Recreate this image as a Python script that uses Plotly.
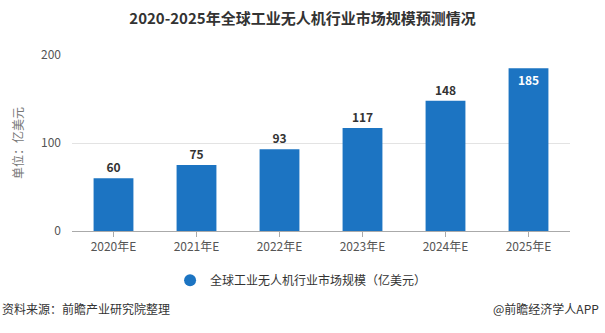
import plotly.graph_objects as go

years = ["2020年E", "2021年E", "2022年E", "2023年E", "2024年E", "2025年E"]
market_size = [60, 75, 93, 117, 148, 185]
series_name = "全球工业无人机行业市场规模（亿美元）"
y_ticks = [0, 100, 200]

font_cn = "Noto Sans CJK SC, Microsoft YaHei, sans-serif"
bar_color = "#1c74c2"

# last bar carries its label inside, the rest sit above their bars
positions = ["outside"] * (len(market_size) - 1) + ["inside"]

fig = go.Figure()
fig.add_trace(go.Bar(
    x=years,
    y=market_size,
    name=series_name,
    marker=dict(color=bar_color, line=dict(width=0)),
    text=[str(v) for v in market_size],
    textposition=positions,
    insidetextanchor="end",
    outsidetextfont=dict(family=font_cn, size=12, color="#333333", weight="bold"),
    insidetextfont=dict(family=font_cn, size=12, color="#ffffff", weight="bold"),
    cliponaxis=False,
    showlegend=False,
))

# round legend key for the series
fig.add_trace(go.Scatter(
    x=[None], y=[None],
    mode="markers",
    name=series_name,
    marker=dict(symbol="circle", size=10, color=bar_color),
    showlegend=True,
))

fig.update_layout(
    width=605,
    height=333,
    margin=dict(l=72, r=35, t=55, b=102),
    paper_bgcolor="white",
    plot_bgcolor="white",
    bargap=0.52,
    title=dict(
        text="<b>2020-2025年全球工业无人机行业市场规模预测情况</b>",
        x=0.5, xanchor="center", y=0.945, yanchor="middle",
        font=dict(family=font_cn, size=15, color="#333333"),
    ),
    xaxis=dict(
        showgrid=False,
        showline=True, linecolor="#aaaaaa", linewidth=1,
        ticks="outside", ticklen=5, tickcolor="#aaaaaa",
        tickfont=dict(family=font_cn, size=12, color="#555555"),
    ),
    yaxis=dict(
        range=[0, 200],
        tickvals=y_ticks,
        showgrid=True, gridcolor="#e3e3e3", gridwidth=1,
        zeroline=False,
        showline=False,
        ticks="", ticklabelstandoff=10,
        tickfont=dict(family=font_cn, size=12, color="#555555"),
        title=dict(text="单位：亿美元", standoff=14,
                   font=dict(family=font_cn, size=12, color="#777777")),
    ),
    legend=dict(
        orientation="h",
        x=0.46, xanchor="center",
        y=-0.28, yanchor="middle",
        font=dict(family=font_cn, size=12, color="#333333"),
        itemsizing="constant",
        itemwidth=30,
    ),
    annotations=[
        dict(text="资料来源：前瞻产业研究院整理", xref="paper", yref="paper",
             x=-72 / 498, y=-0.44, xanchor="left", yanchor="middle",
             showarrow=False, font=dict(family=font_cn, size=12, color="#333333")),
        dict(text="@前瞻经济学人APP", xref="paper", yref="paper",
             x=(605 - 72 - 4) / 498, y=-0.44, xanchor="right", yanchor="middle",
             showarrow=False, font=dict(family=font_cn, size=12, color="#333333")),
    ],
)

fig.write_html("out.html")
